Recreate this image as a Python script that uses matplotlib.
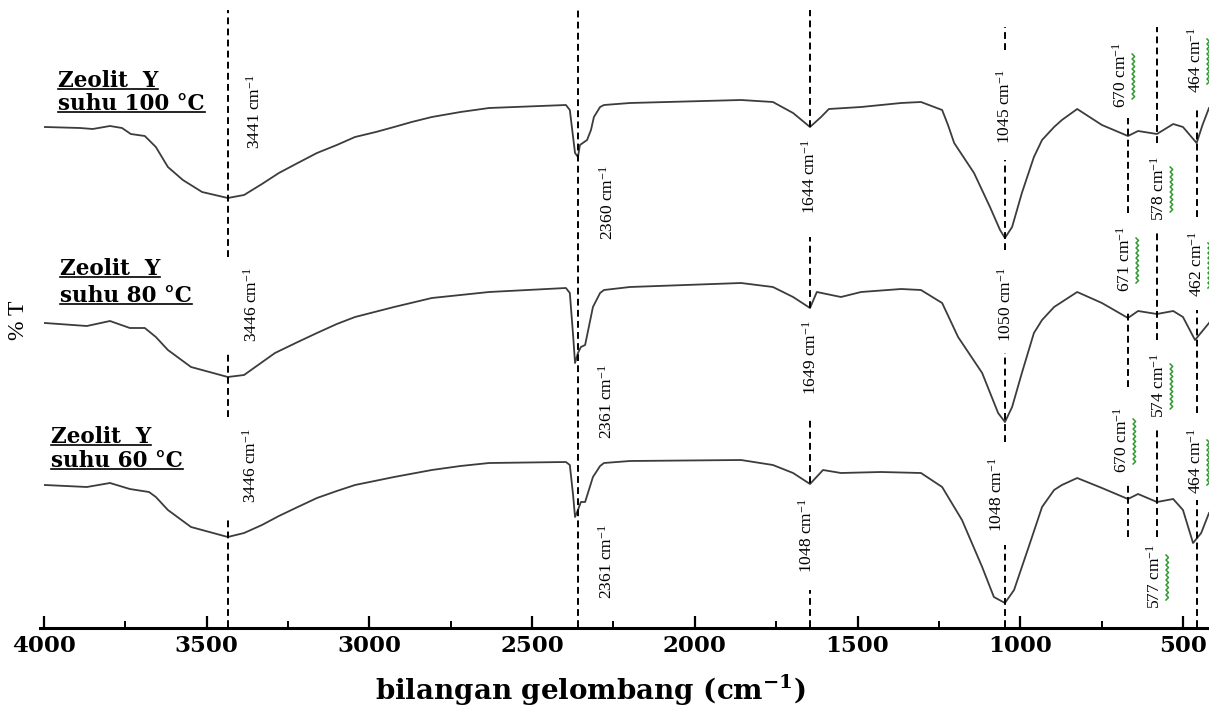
import numpy as np
import matplotlib
matplotlib.use("Agg")
import matplotlib.pyplot as plt
from matplotlib.lines import Line2D

plt.rcParams['mathtext.default'] = 'regular'

# wavenumbers (cm-1) and %T (arbitrary units)
t100_wn = [3997, 3889, 3850, 3797, 3760, 3733, 3690, 3656, 3619, 3573, 3514, 3435, 3385, 3330,
           3278, 3220, 3161, 3100, 3044, 2980, 2924, 2870, 2808, 2720, 2632, 2396, 2384, 2374,
           2368, 2359, 2353, 2331, 2319, 2310, 2291, 2279, 2199, 1858, 1760, 1698, 1646, 1612,
           1588, 1489, 1366, 1305, 1240, 1222, 1203, 1142, 1093, 1062, 1047, 1025, 995, 958,
           933, 896, 872, 825, 749, 669, 638, 580, 530, 500, 458, 440, 420]
t100_T = [513, 512, 511, 514, 512, 506, 504, 493, 473, 460, 448, 442, 445, 456,
          467, 477, 487, 495, 503, 508, 513, 518, 523, 528, 532, 535, 530, 503,
          487, 483, 495, 500, 510, 523, 533, 535, 537, 540, 538, 527, 513, 523,
          531, 533, 537, 538, 530, 515, 497, 467, 433, 410, 402, 413, 447, 483,
          500, 513, 520, 531, 515, 504, 509, 506, 516, 513, 497, 515, 532]

t80_wn = [3997, 3868, 3797, 3736, 3690, 3656, 3619, 3548, 3435, 3385, 3290, 3220, 3161, 3100,
          3044, 2924, 2808, 2720, 2632, 2396, 2384, 2374, 2368, 2359, 2350, 2337, 2313, 2291,
          2279, 2199, 1858, 1760, 1698, 1646, 1625, 1551, 1489, 1366, 1305, 1240, 1191, 1117,
          1068, 1047, 1025, 995, 958, 933, 896, 825, 749, 669, 638, 580, 530, 500, 463, 420]
t80_T = [317, 314, 319, 312, 312, 303, 290, 273, 263, 265, 287, 298, 307, 316,
         323, 333, 342, 345, 348, 352, 347, 305, 277, 287, 293, 295, 333, 347,
         350, 353, 357, 353, 343, 332, 348, 343, 348, 351, 350, 337, 303, 267,
         227, 218, 233, 267, 307, 320, 333, 348, 337, 322, 329, 326, 329, 323, 300, 317]

t60_wn = [3997, 3868, 3797, 3736, 3677, 3656, 3619, 3548, 3435, 3385, 3330, 3278, 3220, 3161,
          3100, 3044, 2924, 2808, 2720, 2632, 2396, 2384, 2374, 2368, 2359, 2350, 2337, 2313,
          2291, 2279, 2199, 1858, 1760, 1698, 1646, 1606, 1551, 1428, 1305, 1240, 1179, 1117,
          1081, 1047, 1019, 970, 933, 896, 872, 825, 749, 669, 638, 580, 530, 500, 469, 444, 420]
t60_T = [155, 153, 157, 151, 148, 143, 130, 113, 103, 107, 115, 124, 133, 142,
         149, 155, 163, 170, 174, 177, 178, 175, 145, 123, 130, 138, 138, 163,
         174, 177, 179, 180, 175, 167, 156, 170, 167, 168, 167, 153, 120, 73,
         43, 37, 50, 97, 133, 150, 155, 162, 152, 141, 146, 138, 141, 130, 97, 107, 127]

# dashed peak guides: wavenumber and the T ranges where the dashes are drawn
guide_wn = [3435, 2359, 1646, 1047, 669, 580, 458]
guide_spans = [
    [(630, 383), (287, 223), (120, 13)],
    [(630, 13)],
    [(630, 513), (403, 332), (223, 157), (50, 13)],
    [(613, 590), (480, 390), (287, 198), (95, 13)],
    [(522, 427), (327, 253), (155, 103)],
    [(613, 497), (407, 300), (210, 103)],
    [(533, 423), (330, 227), (140, 13)],
]

# peak labels: (text value, wn, T) for each sample
peaks_100 = [("3441", 3352, 528), ("2360", 2267, 437), ("1644", 1646, 463), ("1045", 1047, 533),
             ("670", 690, 565), ("578", 573, 452), ("464", 460, 580)]
peaks_80 = [("3446", 3361, 335), ("2361", 2270, 238), ("1649", 1643, 282), ("1050", 1044, 335),
            ("671", 678, 381), ("574", 573, 255), ("462", 457, 376)]
peaks_60 = [("3446", 3364, 174), ("2361", 2270, 78), ("1048", 1655, 104), ("1048", 1071, 145),
            ("670", 687, 200), ("577", 586, 64), ("464", 460, 179)]
squiggly = ["670", "671", "578", "574", "577", "464", "462"]

samples = ["suhu 100 \u00b0C", "suhu 80 \u00b0C", "suhu 60 \u00b0C"]
sample_pos = [(58, 87, 110), (60, 275, 302), (51, 443, 467)]   # x px, baseline px of two lines

W, H = 1209, 707
fig = plt.figure(figsize=(W / 100, H / 100), dpi=100)
ax = fig.add_axes([40 / W, 1 - 628 / H, 1 - 40 / W, 628 / H])
ax.set_xlim(4012, 420)
ax.set_ylim(12, 640)

for wn, T in [(t100_wn, t100_T), (t80_wn, t80_T), (t60_wn, t60_T)]:
    ax.plot(wn, T, color='#3c3c3c', lw=1.3, solid_joinstyle='round')

for wn, spans in zip(guide_wn, guide_spans):
    for top, bot in spans:
        ax.plot([wn, wn], [bot, top], color='black', lw=1.4, linestyle=(0, (3.5, 2.2)))

px_wn = (4012 - 420) / (W - 40)
for peaks in [peaks_100, peaks_80, peaks_60]:
    for val, wn, T in peaks:
        ax.text(wn, T, val + " cm$^{-1}$", rotation=90, ha='center', va='center',
                family='Liberation Serif', fontsize=12.5, color='black')
        if val in squiggly:
            ys = np.arange(T - 24, T + 22, 2.5)
            xs = wn - px_wn * (11 + 2.5 * (np.arange(len(ys)) % 2))
            ax.plot(xs, ys, color='#2e9a2e', lw=1.1)

ax.spines['left'].set_visible(False)
ax.spines['right'].set_visible(False)
ax.spines['top'].set_visible(False)
ax.spines['bottom'].set_linewidth(2.2)
ax.set_yticks([])
ax.set_xticks([4000, 3500, 3000, 2500, 2000, 1500, 1000, 500])
ax.set_xticks([3750, 3250, 2750, 2250, 1750, 1250, 750], minor=True)
ax.tick_params(axis='x', which='major', direction='in', length=9, width=1.6, pad=5)
ax.tick_params(axis='x', which='minor', direction='in', length=5, width=1.4)
for lab in ax.get_xticklabels():
    lab.set_family('DejaVu Serif')
    lab.set_fontweight('bold')
    lab.set_fontsize(16.5)

fig.text(590 / W, 1 - 690 / H, "bilangan gelombang (cm$^{-1}$)", ha='center', va='center',
         family='DejaVu Serif', fontweight='bold', fontsize=20)
fig.text(18 / W, 1 - 320 / H, "% T", rotation=90, ha='center', va='center',
         family='Liberation Serif', fontsize=17)

labels = []
for name, (x, b1, b2) in zip(samples, sample_pos):
    for txt, b in [("Zeolit  Y", b1), (name, b2)]:
        t = fig.text(x / W, 1 - b / H, txt, ha='left', va='baseline',
                     family='DejaVu Serif', fontweight='bold', fontsize=15.5)
        labels.append((t, b))

fig.canvas.draw()
for t, b in labels:
    bb = t.get_window_extent()
    yline = 1 - (b + 2) / H
    fig.add_artist(Line2D([bb.x0 / W, bb.x1 / W], [yline, yline], color='black', lw=1.2))

fig.savefig("out.png", dpi=100)
